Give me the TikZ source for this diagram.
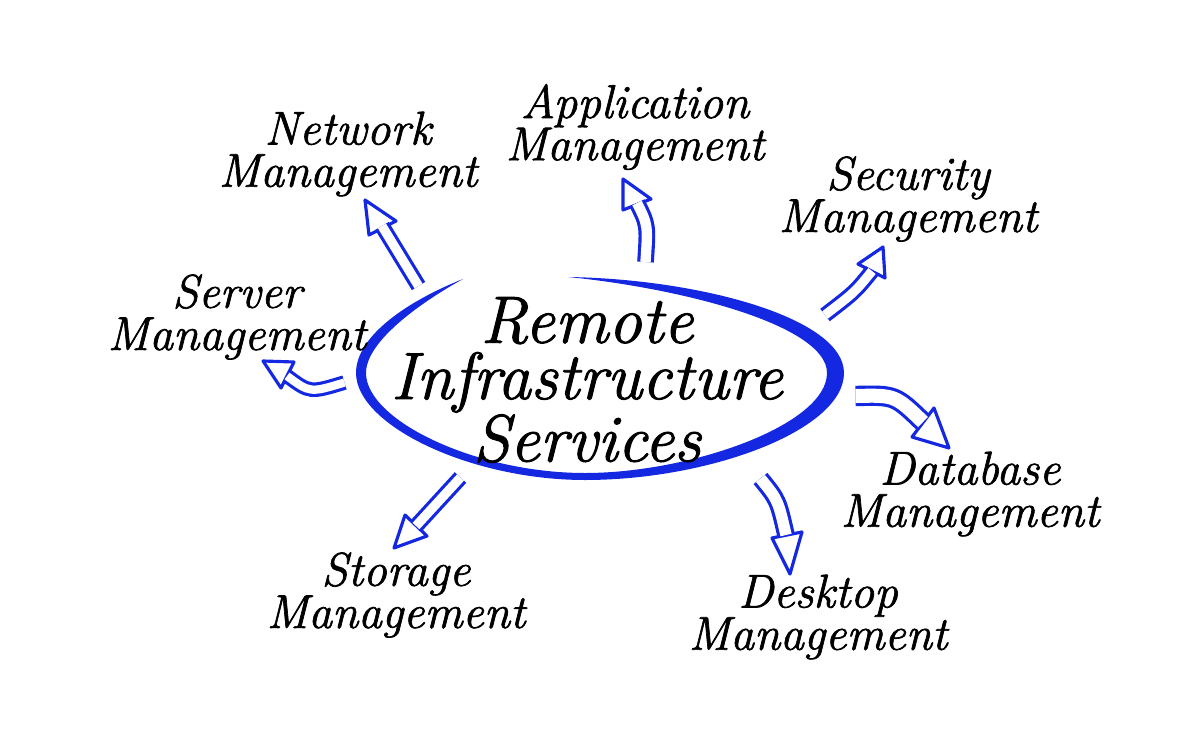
\documentclass[tikz,border=0pt]{standalone}
\usepackage{fontspec}
\newfontfamily\handfont{Latin Modern Roman}
\usetikzlibrary{calc}
\definecolor{ringblue}{RGB}{20,40,225}
\tikzstyle{hub}=[align=center,inner sep=0pt,font=\handfont\itshape\fontsize{38}{32}\selectfont\addfontfeature{FakeBold=1.4}]
\tikzstyle{service}=[align=center,inner sep=0pt,font=\handfont\itshape\fontsize{27}{24}\selectfont\addfontfeature{FakeBold=1.4}]
\tikzstyle{shaft}=[draw=ringblue,double=white,line width=1.8pt]
\tikzstyle{headtri}=[draw=ringblue,fill=white,line width=1.8pt,line join=round]

\begin{document}
\begin{tikzpicture}[x=0.02cm,y=-0.02cm]
	\useasboundingbox (0,0) rectangle (1200,754);
	
	% ring
	\fill[ringblue] (568,277) .. controls (700,279) and (844,318) .. (844,373)
		.. controls (844,430) and (710,480) .. (585,480)
		.. controls (470,480) and (356,425) .. (356,373)
		.. controls (356,335) and (410,300) .. (463,279)
		.. controls (425,300) and (366,340) .. (366,373)
		.. controls (366,420) and (475,473) .. (585,473)
		.. controls (690,473) and (827,425) .. (827,373)
		.. controls (827,325) and (680,288) .. (568,277) -- cycle;
	
	\node[hub] (remote) at (587,380) {Remote\\Infrastructure\\Services};
	
	\node[service] (network) at (348,154) {Network\\Management};
	\node[service] (application) at (635,127) {Application\\Management};
	\node[service] (security) at (908,199) {Security\\Management};
	\node[service] (server) at (237,317) {Server\\Management};
	\node[service] (database) at (970,494) {Database\\Management};
	\node[service] (desktop) at (818,617) {Desktop\\Management};
	\node[service] (storage) at (396,595) {Storage\\Management};
	
	\coordinate (netS) at (418.5,286);
	\coordinate (netB) at (382,226);
	\coordinate (netT) at (365,200);
	\coordinate (netL) at (369,235);
	\coordinate (netR) at (396,221);
	\draw[headtri] (netT) -- (netL) -- (netR) -- cycle;
	\draw[shaft,double distance=5.3pt] (netS) -- (netB);
	
	\coordinate (appS) at (645.5,262);
	\coordinate (appB) at (637,203);
	\coordinate (appT) at (623,179);
	\coordinate (appL) at (623,210);
	\coordinate (appR) at (651,199);
	\draw[headtri] (appT) -- (appL) -- (appR) -- cycle;
	\draw[shaft,double distance=5.9pt] (appS) .. controls (648,225) .. (appB);
	
	\coordinate (secS) at (825,315);
	\coordinate (secB) at (872,271);
	\coordinate (secT) at (883,247);
	\coordinate (secL) at (858,264);
	\coordinate (secR) at (885,278);
	\draw[headtri] (secT) -- (secL) -- (secR) -- cycle;
	\draw[shaft,double distance=5.3pt] (secS) .. controls (855,292) .. (secB);
	
	\coordinate (dbS) at (855.5,396);
	\coordinate (dbB) at (923,422);
	\coordinate (dbT) at (949,448);
	\coordinate (dbL) at (934,408);
	\coordinate (dbR) at (912,437);
	\draw[headtri] (dbT) -- (dbL) -- (dbR) -- cycle;
	\draw[shaft,double distance=8pt] (dbS) .. controls (895,395) .. (dbB);
	
	\coordinate (deskS) at (760.5,478.5);
	\coordinate (deskB) at (786,535);
	\coordinate (deskT) at (790,574);
	\coordinate (deskL) at (772,538);
	\coordinate (deskR) at (802,532);
	\draw[headtri] (deskT) -- (deskL) -- (deskR) -- cycle;
	\draw[shaft,double distance=6.5pt] (deskS) .. controls (778,500) .. (deskB);
	
	\coordinate (storS) at (460.5,477.5);
	\coordinate (storB) at (416,526);
	\coordinate (storT) at (394,548);
	\coordinate (storL) at (405,515);
	\coordinate (storR) at (427,536);
	\draw[headtri] (storT) -- (storL) -- (storR) -- cycle;
	\draw[shaft,double distance=5.3pt] (storS) -- (storB);
	
	\coordinate (servS) at (344.5,382.5);
	\coordinate (servB) at (287,376);
	\coordinate (servT) at (263,361);
	\coordinate (servL) at (294,362);
	\coordinate (servR) at (281,388);
	\draw[headtri] (servT) -- (servL) -- (servR) -- cycle;
	\draw[shaft,double distance=4.7pt] (servS) .. controls (310,393) .. (servB);
\end{tikzpicture}
\end{document}
